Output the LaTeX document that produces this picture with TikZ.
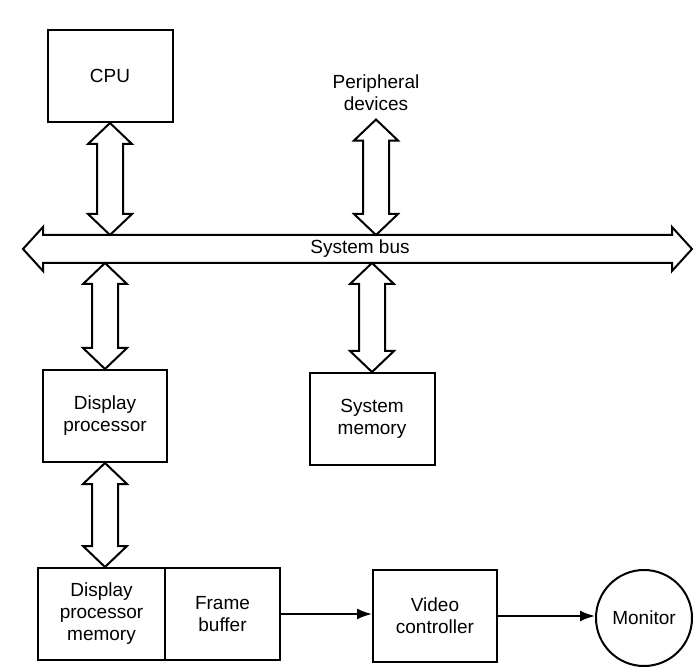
\documentclass[tikz,border=0pt]{standalone}
\usepackage{fontspec}
\setmainfont{Liberation Sans}
\usetikzlibrary{arrows.meta,calc,positioning}
\tikzset{
  blk/.style={draw, line width=2pt, minimum width=125pt, minimum height=92pt, align=center, inner sep=2pt},
  fat/.style={draw, line width=2pt, fill=white, line join=miter},
  wire/.style={line width=2pt, -{Latex[length=15pt,width=11pt]}},
}
% hollow two-way arrow, #1 is the upper end, #2 the lower one
\newcommand{\twoway}[2]{%
  \draw[fat] let \p1=(#1), \p2=(#2) in
    (\x1,\y1) -- (\x1-22pt,\y1-21pt) -- (\x1-13pt,\y1-21pt) -- (\x1-13pt,\y2+21pt)
    -- (\x1-22pt,\y2+21pt) -- (\x1,\y2) -- (\x1+22pt,\y2+21pt) -- (\x1+13pt,\y2+21pt)
    -- (\x1+13pt,\y1-21pt) -- (\x1+22pt,\y1-21pt) -- cycle;}

\begin{document}
\begin{tikzpicture}[x=1pt, y=-1pt, font=\fontsize{19}{22}\selectfont]
  \useasboundingbox (0,0) rectangle (694,668);
  % units
  \node[blk] (cpu) at (110,76) {CPU};
  \node[align=center] (periph) at (376,93) {Peripheral\\devices};
  \node[blk, minimum width=124pt] (dp) at (105,416) {Display\\processor};
  \node[blk] (smem) at (372,419) {System\\memory};
  \node[blk, minimum width=127pt] (dpm) at (101.5,614) {Display\\processor\\memory};
  \node[blk, minimum width=115pt, right=-2pt of dpm] (fb) {Frame\\buffer};
  \node[blk, minimum width=124pt] (vc) at (435,616) {Video\\controller};
  \node[circle, draw, line width=2pt, minimum size=96pt, inner sep=0pt] (mon) at (644,618) {Monitor};
  % system bus
  \coordinate (busL) at (23,249);
  \coordinate (busR) at (692,249);
  \coordinate (bustop) at (0,235);
  \coordinate (busbot) at (0,263);
  \draw[fat] (busL) -- ++(20,-22) -- ++(0,8) -- ($(busR)+(-20,-14)$) -- ++(0,-8) -- (busR)
    -- ++(-20,22) -- ++(0,-8) -- ($(busL)+(20,14)$) -- ++(0,8) -- cycle;
  \node (buslbl) at (360,249) {System bus};
  % links to the bus
  \twoway{cpu.south}{cpu.south |- bustop}
  \twoway{[yshift=-5pt]periph.south}{periph.south |- bustop}
  \twoway{dp.north |- busbot}{dp.north}
  \twoway{smem.north |- busbot}{smem.north}
  \twoway{dp.south}{dp.south |- dpm.north}
  % video path
  \draw[wire] (fb.east) -- (fb.east -| vc.west);
  \draw[wire] (vc.east) -- (vc.east -| mon.west);
\end{tikzpicture}
\end{document}
